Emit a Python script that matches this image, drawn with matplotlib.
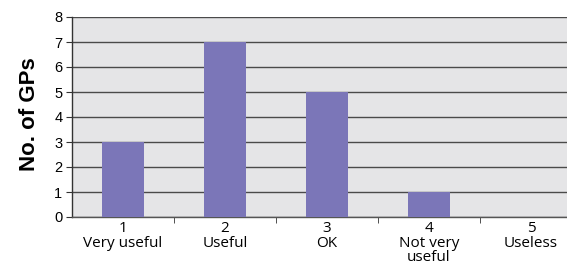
import matplotlib
matplotlib.use("Agg")
import matplotlib.pyplot as plt
import numpy as np

categories = ["1\nVery useful", "2\nUseful", "3\nOK", "4\nNot very\nuseful", "5\nUseless"]
counts = [3, 7, 5, 1, 0]
yticks = [0, 1, 2, 3, 4, 5, 6, 7, 8]

fig = plt.figure(figsize=(5.67, 2.78), dpi=100)
ax = fig.add_axes([72/567, 61/278, 510/567, 200/278])
ax.set_facecolor("#e5e5e7")

x = np.arange(len(categories))
ax.bar(x, counts, width=0.41, color="#7b76b8", zorder=3)

ax.set_xlim(-0.5, len(categories) - 0.5)
ax.set_ylim(0, 8)
ax.set_yticks(yticks)
ax.yaxis.grid(True, color="#4a4a4a", linewidth=1.0, zorder=1)
ax.set_axisbelow(True)

for s in ["top", "right"]:
    ax.spines[s].set_visible(False)
ax.spines["left"].set_color("#333333")
ax.spines["left"].set_linewidth(1.0)
ax.spines["bottom"].set_color("#555555")
ax.spines["bottom"].set_linewidth(1.0)

ax.set_xticks(x)
ax.set_xticklabels(categories, family="Open Sans", fontsize=11, linespacing=0.95)
ax.set_xticks(np.arange(0.5, len(categories) - 0.5, 1), minor=True)
ax.tick_params(axis="x", which="major", length=0, pad=3)
ax.tick_params(axis="x", which="minor", length=4, color="#333333", direction="out")
ax.tick_params(axis="y", length=4, color="#333333", direction="out", pad=3, labelsize=10.5)
for lab in ax.get_yticklabels():
    lab.set_family("Liberation Sans")

ax.set_ylabel("No. of GPs", family="Liberation Sans", fontsize=16, fontweight="bold",
              va="center")
ax.yaxis.set_label_coords(-0.0824, 0.515)

fig.savefig("out.png", dpi=100)
